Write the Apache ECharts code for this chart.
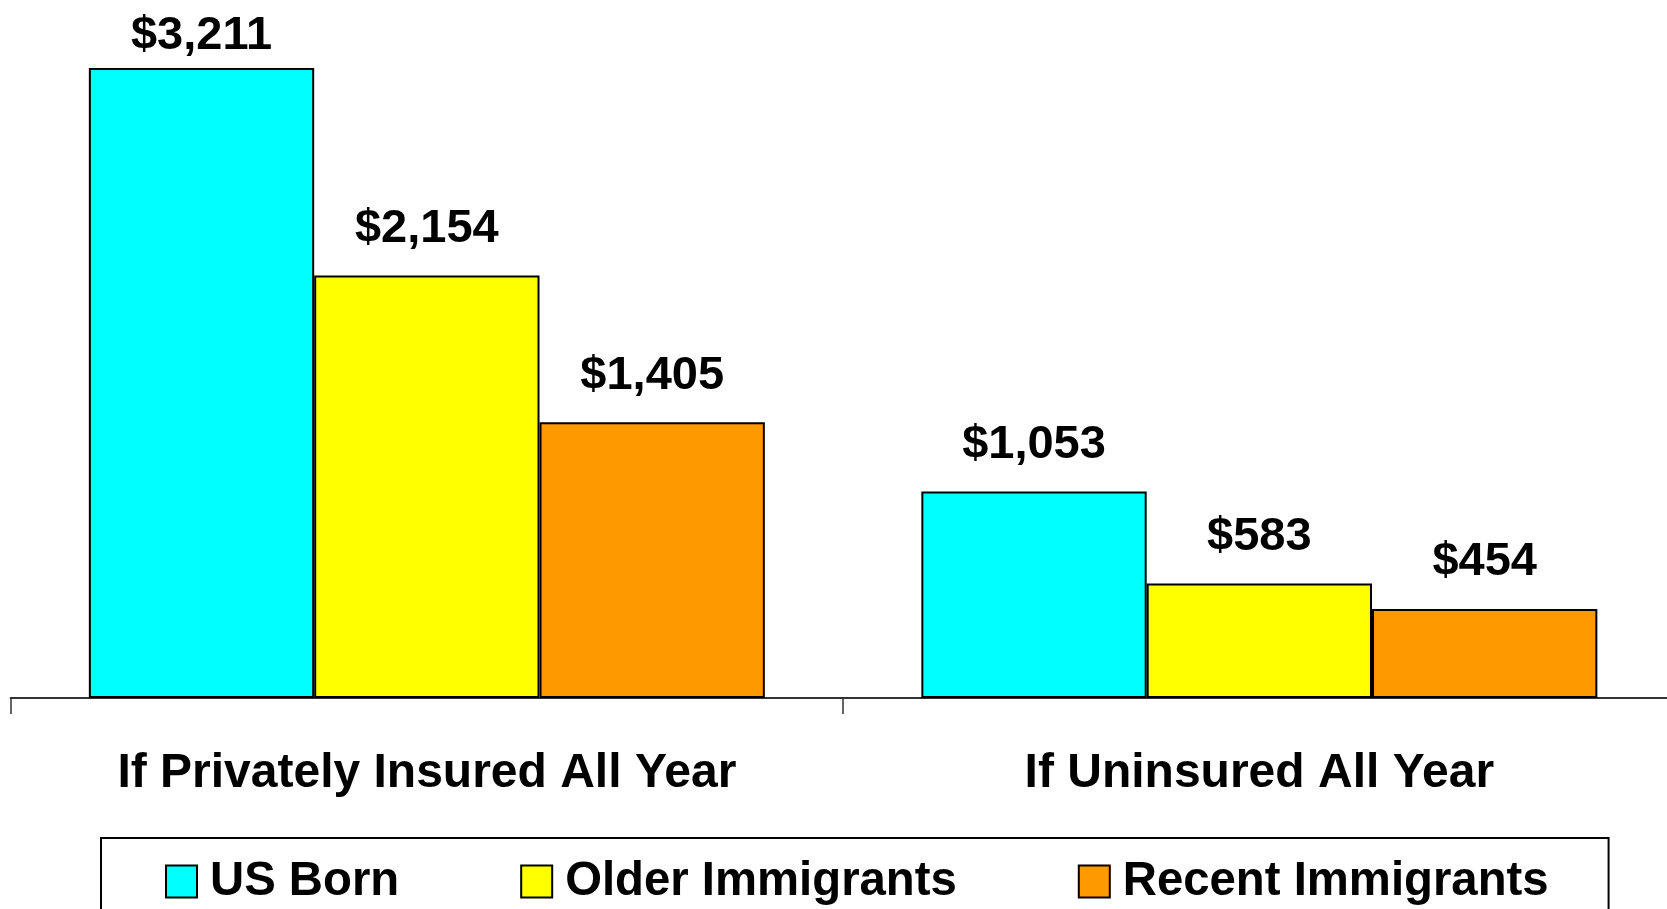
<!DOCTYPE html>
<html>
<head>
<meta charset="utf-8">
<script src="https://cdn.jsdelivr.net/npm/echarts@6/dist/echarts.min.js"></script>
<style>
html, body { margin: 0; padding: 0; background: #fff; }
#chart { width: 1667px; height: 909px; }
</style>
</head>
<body>
<div id="chart"></div>
<script>
// categories and series values
var categories = ['If Privately Insured All Year', 'If Uninsured All Year'];
var seriesNames = ['US Born', 'Older Immigrants', 'Recent Immigrants'];
var usBorn = [3211, 1053];
var olderImmigrants = [2154, 583];
var recentImmigrants = [1405, 454];

var colors = ['#00ffff', '#ffff00', '#ff9900'];
var font = '"Liberation Sans", Arial, sans-serif';

function money(v) {
    return '$' + v.toLocaleString('en-US');
}

function makeSeries(name, values, color) {
    return {
        name: name,
        type: 'bar',
        barGap: '0%',
        barCategoryGap: '18.8%',
        data: values,
        itemStyle: {
            color: color,
            borderColor: '#000',
            borderWidth: 2
        },
        label: {
            show: true,
            position: 'top',
            distance: 23,
            color: '#000',
            fontFamily: font,
            fontWeight: 'bold',
            fontSize: 47,
            lineHeight: 47,
            formatter: function (p) { return money(p.value); }
        },
        // keep the tallest label inside the canvas
        labelLayout: function (p) {
            if (p.labelRect.y < 12) {
                return {
                    x: p.labelRect.x,
                    y: 13,
                    align: 'left',
                    verticalAlign: 'top'
                };
            }
        }
    };
}

var chart = echarts.init(document.getElementById('chart'));
chart.setOption({
    animation: false,
    textStyle: { fontFamily: font },
    grid: {
        left: 10.6,
        width: 1665,
        top: 11.3,
        bottom: 211,
        outerBoundsMode: 'none',
        containLabel: false
    },
    legend: {
        data: seriesNames,
        left: 101,
        top: 838,
        padding: [20, 60, 60, 64],
        itemGap: 121,
        itemWidth: 31,
        itemHeight: 32,
        borderColor: '#000',
        borderWidth: 2,
        icon: 'rect',
        itemStyle: { borderColor: '#000', borderWidth: 2 },
        textStyle: {
            color: '#000',
            fontFamily: font,
            fontWeight: 'bold',
            fontSize: 47.3,
            lineHeight: 32,
            padding: [0, 0, 0, 8]
        }
    },
    xAxis: {
        type: 'category',
        data: categories,
        axisLine: {
            show: true,
            lineStyle: { color: '#333', width: 2 }
        },
        axisTick: {
            show: true,
            alignWithLabel: false,
            length: 16,
            lineStyle: { color: '#333', width: 1.5 }
        },
        axisLabel: {
            color: '#000',
            fontFamily: font,
            fontWeight: 'bold',
            fontSize: 48,
            lineHeight: 48,
            margin: 52
        }
    },
    yAxis: {
        type: 'value',
        min: 0,
        max: 3500,
        show: false,
        splitLine: { show: false }
    },
    series: [
        makeSeries(seriesNames[0], usBorn, colors[0]),
        makeSeries(seriesNames[1], olderImmigrants, colors[1]),
        makeSeries(seriesNames[2], recentImmigrants, colors[2])
    ]
});
</script>
</body>
</html>
